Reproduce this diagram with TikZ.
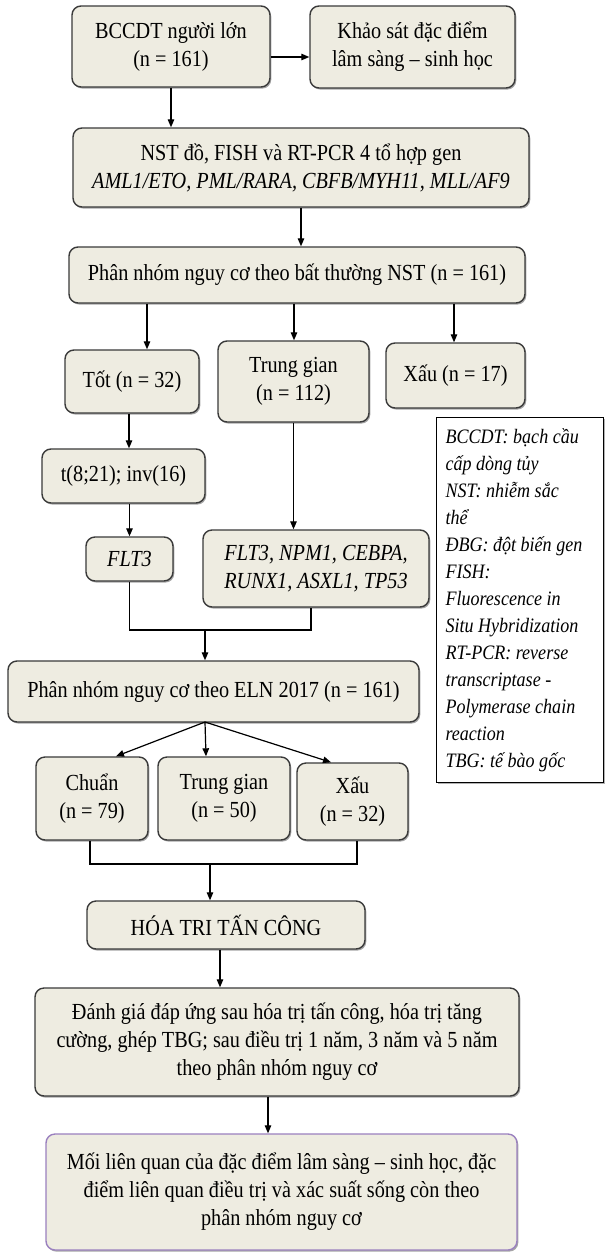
\documentclass[tikz,border=0pt]{standalone}
\usepackage{fontspec}
\setmainfont{Liberation Serif}[FakeStretch=0.88]
\usetikzlibrary{arrows.meta,shadows}
\definecolor{boxfill}{HTML}{EEECE1}
\definecolor{boxline}{HTML}{3A3A3A}
\definecolor{purpleline}{HTML}{9A80BF}
\begin{document}
\begin{tikzpicture}[x=1pt,y=-1pt,
  box/.style={draw=boxline, fill=boxfill, line width=1.4pt, rounded corners=9pt,
    inner sep=0pt, align=center, font=\fontsize{23}{28}\selectfont,
    drop shadow={shadow xshift=1.3pt, shadow yshift=-1.6pt, fill=black, opacity=0.35}},
  legendbox/.style={draw=black, fill=white, line width=1.1pt, inner ysep=0pt, inner xsep=9pt,
    align=flush left, font=\fontsize{20.5}{27}\selectfont\itshape,
    drop shadow={shadow xshift=1.2pt, shadow yshift=-1.4pt, fill=black, opacity=0.3}},
  arr/.style={line width=1.2pt, draw=black, -{Triangle[length=8pt,width=6.5pt]}},
  ln/.style={line width=1.2pt, draw=black}]
\useasboundingbox (0,0) rectangle (605,1253);
\fill[white] (0,0) rectangle (605,1253);

% nodes
\node[box, minimum width=198pt, minimum height=81pt] (A) at (171,46.5) {BCCDT người lớn\\(n = 161)};
\node[box, minimum width=205pt, minimum height=82pt] (B) at (412.5,47) {Khảo sát đặc điểm\\lâm sàng – sinh học};
\node[box, minimum width=456pt, minimum height=79pt] (C) at (301,167.5) {NST đồ, FISH và RT-PCR 4 tổ hợp gen\\\textit{AML1/ETO, PML/RARA, CBFB/MYH11, MLL/AF9}};
\node[box, minimum width=456pt, minimum height=56pt] (D) at (297,275) {Phân nhóm nguy cơ theo bất thường NST (n = 161)};
\node[box, minimum width=134pt, minimum height=63pt] (E1) at (132,381.5) {Tốt (n = 32)};
\node[box, minimum width=151pt, minimum height=81pt] (E2) at (293.5,381.5) {Trung gian\\(n = 112)};
\node[box, minimum width=139pt, minimum height=65pt] (E3) at (455.5,375.5) {Xấu (n = 17)};
\node[box, minimum width=163pt, minimum height=54pt] (F) at (123.5,476) {t(8;21); inv(16)};
\node[box, minimum width=87pt, minimum height=44pt] (G) at (129.5,559) {\textit{FLT3}};
\node[box, minimum width=226pt, minimum height=77pt] (H) at (316,568.5) {\textit{FLT3, NPM1, CEBPA,}\\\textit{RUNX1, ASXL1, TP53}};
\node[box, minimum width=411pt, minimum height=61pt] (I) at (213.5,691.5) {Phân nhóm nguy cơ theo ELN 2017 (n = 161)};
\node[box, minimum width=112pt, minimum height=83pt] (J1) at (92,798.5) {Chuẩn\\(n = 79)};
\node[box, minimum width=132pt, minimum height=83pt] (J2) at (224,798.5) {Trung gian\\(n = 50)};
\node[box, minimum width=111pt, minimum height=77pt] (J3) at (352.5,801.5) {Xấu\\(n = 32)};
\node[box, minimum width=278pt, minimum height=48pt] (K) at (226,925) {HÓA TRI TẤN CÔNG};
\node[box, minimum width=484pt, minimum height=108pt] (L) at (277,1042) {Đánh giá đáp ứng sau hóa trị tấn công, hóa trị tăng\\cường, ghép TBG; sau điều trị 1 năm, 3 năm và 5 năm\\theo phân nhóm nguy cơ};
\node[box, draw=purpleline, minimum width=471pt, minimum height=116pt] (M) at (281.5,1192) {Mối liên quan của đặc điểm lâm sàng – sinh học, đặc\\điểm liên quan điều trị và xác suất sống còn theo\\phân nhóm nguy cơ};
\node[legendbox, text width=149pt, minimum height=365pt, anchor=north west] (N) at (436,417) {BCCDT: bạch cầu\\cấp dòng tủy\\NST: nhiễm sắc\\thể\\ĐBG: đột biến gen\\FISH:\\Fluorescence in\\Situ Hybridization\\RT-PCR: reverse\\transcriptase -\\Polymerase chain\\reaction\\TBG: tế bào gốc};

% helper coordinates
\coordinate (yA) at (0,57);
\coordinate (x1) at (147,0);
\coordinate (x2) at (294,0);
\coordinate (x3) at (454,0);
\coordinate (xF) at (129,0);
\coordinate (b1) at (0,630);
\coordinate (m1) at (205,630);
\coordinate (s1) at (205,722);
\coordinate (t1) at (116,0);
\coordinate (t2) at (206,0);
\coordinate (t3) at (331,0);
\coordinate (b2) at (0,864);
\coordinate (l1) at (90,0);
\coordinate (r1) at (357,0);
\coordinate (m2) at (210,864);
\coordinate (xK) at (220,0);
\coordinate (xL) at (268,0);

% connectors
\draw[arr] (A.east |- yA) -- (B.west |- yA);
\draw[arr] (A.south) -- (A.south |- C.north);
\draw[arr] (C.south) -- (C.south |- D.north);
\draw[arr] (x1 |- D.south) -- (x1 |- E1.north);
\draw[arr] (x2 |- D.south) -- (x2 |- E2.north);
\draw[arr] (x3 |- D.south) -- (x3 |- E3.north);
\draw[arr] (xF |- E1.south) -- (xF |- F.north);
\draw[arr] (G.north |- F.south) -- (G.north);
\draw[arr] (E2.south) -- (E2.south |- H.north);
\draw[ln] (G.south) -- (G.south |- b1) -- ([xshift=-5pt]H.south |- b1) -- ([xshift=-5pt]H.south);
\draw[arr] (m1) -- (m1 |- I.north);
\draw[arr] (s1) -- (t1 |- J1.north);
\draw[arr] (s1) -- (t2 |- J2.north);
\draw[arr] (s1) -- (t3 |- J3.north);
\draw[ln] (l1 |- J1.south) -- (l1 |- b2) -- (r1 |- b2) -- (r1 |- J3.south);
\draw[arr] (m2) -- (m2 |- K.north);
\draw[arr] (xK |- K.south) -- (xK |- L.north);
\draw[arr] (xL |- L.south) -- (xL |- M.north);
\end{tikzpicture}
\end{document}
